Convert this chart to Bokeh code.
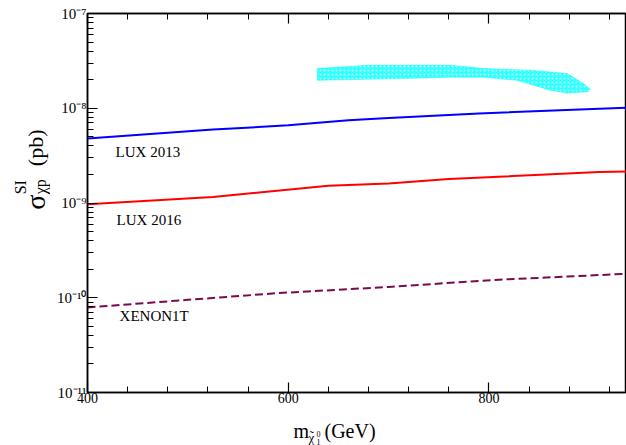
import math
from bokeh.plotting import figure
from bokeh.layouts import row, column
from bokeh.models import FixedTicker, CustomJSTickFormatter, LinearAxis, ColumnDataSource, Range1d
from bokeh.embed import file_html
from bokeh.resources import INLINE
from bokeh.core.properties import value

# ---------------- data ----------------
x_ticks = [400, 600, 800]
x_minor = [440, 480, 520, 560, 640, 680, 720, 760, 840, 880, 920]
y_ticks = [1e-11, 1e-10, 1e-9, 1e-8, 1e-7]
y_tick_labels = ["10⁻¹¹", "10⁻¹⁰", "10⁻⁹", "10⁻⁸", "10⁻⁷"]

lux2013_m = [400, 525, 600, 660, 700, 790, 910, 937]
lux2013_sigma = [4.8e-9, 5.95e-9, 6.6e-9, 7.45e-9, 7.9e-9, 8.8e-9, 9.9e-9, 1.01e-8]

lux2016_m = [400, 525, 640, 700, 760, 910, 937]
lux2016_sigma = [0.97e-9, 1.16e-9, 1.52e-9, 1.61e-9, 1.79e-9, 2.12e-9, 2.15e-9]

xenon1t_m = [400, 500, 590, 700, 780, 810, 937]
xenon1t_sigma = [7.9e-11, 9.5e-11, 1.12e-10, 1.3e-10, 1.48e-10, 1.55e-10, 1.79e-10]

band_m = [629, 679, 712, 762, 795, 844, 878, 894, 901, 898, 878, 861, 828, 795, 762, 712, 629]
band_sigma = [2.62e-8, 2.84e-8, 2.84e-8, 2.84e-8, 2.62e-8, 2.51e-8, 2.32e-8, 1.82e-8, 1.58e-8,
              1.49e-8, 1.45e-8, 1.55e-8, 1.97e-8, 2.13e-8, 2.13e-8, 2.06e-8, 1.97e-8]

curve_names = ["LUX 2013", "LUX 2016", "XENON1T"]
name_m = [428, 429, 432]
name_sigma = [3.44e-9, 6.62e-10, 6.47e-11]

x_start, x_end = 400, 937
y_start, y_end = 1e-11, 1e-7

FONT = "Liberation Serif"

# ---------------- main plot ----------------
p = figure(width=576, height=417, x_range=(x_start, x_end), y_range=(y_start, y_end),
           y_axis_type="log", output_backend="svg", toolbar_location=None,
           min_border_left=37, min_border_right=0, min_border_top=13, min_border_bottom=25)
p.background_fill_color = "white"
p.border_fill_color = "white"
p.xgrid.visible = False
p.ygrid.visible = False
p.outline_line_color = "black"
p.outline_line_width = 1.5

def style_axis(ax):
    ax.axis_line_color = "black"
    ax.axis_line_width = 1.5
    ax.major_tick_in = 10
    ax.major_tick_out = 0
    ax.minor_tick_in = 6
    ax.minor_tick_out = 0
    ax.major_tick_line_color = "black"
    ax.minor_tick_line_color = "black"
    ax.major_tick_line_width = 1.2
    ax.minor_tick_line_width = 1
    ax.major_label_text_font = FONT
    ax.major_label_text_font_size = "14px"
    ax.major_label_text_color = "black"

p.xaxis.ticker = FixedTicker(ticks=x_ticks, minor_ticks=x_minor)
y_minor = [k * t for t in y_ticks[:-1] for k in range(2, 10)]
p.yaxis.ticker = FixedTicker(ticks=y_ticks, minor_ticks=y_minor)
style_axis(p.xaxis[0])
style_axis(p.yaxis[0])
p.xaxis.major_label_standoff = 0
p.yaxis.major_label_standoff = 1
p.yaxis.major_label_text_font_size = "15px"
p.yaxis.formatter = CustomJSTickFormatter(
    args=dict(tvals=y_ticks, tlabels=y_tick_labels),
    code="""
    let best = 0, bd = Infinity;
    for (let i = 0; i < tvals.length; i++) {
        const d = Math.abs(Math.log10(tvals[i]) - Math.log10(tick));
        if (d < bd) { bd = d; best = i; }
    }
    return tlabels[best];
    """)

top = LinearAxis(ticker=FixedTicker(ticks=x_ticks, minor_ticks=x_minor),
                 formatter=CustomJSTickFormatter(code="return '';"))
style_axis(top)
top.major_label_standoff = 0
p.add_layout(top, "above")

p.patch(band_m, band_sigma, fill_color="#00ffff", fill_alpha=0.8, line_color="#00ffff",
        line_alpha=0.5, line_width=1, hatch_pattern="dot", hatch_color="white",
        hatch_scale=4, hatch_weight=1.2, hatch_alpha=0.7)

p.line(lux2013_m, lux2013_sigma, line_color="#0000ff", line_width=2)
p.line(lux2016_m, lux2016_sigma, line_color="#ff0000", line_width=2)
p.line(xenon1t_m, xenon1t_sigma, line_color="#7a0a4e", line_width=2, line_dash="8 4")

src = ColumnDataSource(dict(m=name_m, s=name_sigma, t=curve_names))
p.text(x="m", y="s", text="t", source=src, text_font=value(FONT), text_font_size="15px",
       text_color="black", text_align="left", text_baseline="middle")

# ---------------- y-axis title panel (pixel coordinates) ----------------
left = figure(width=50, height=417, x_range=Range1d(0, 50), y_range=Range1d(417, 0),
              output_backend="svg", toolbar_location=None, x_axis_location=None,
              y_axis_location=None, min_border=0)
left.outline_line_color = None
left.xgrid.visible = False
left.ygrid.visible = False
ang = math.pi / 2
def ytitle(txt, x, y, size):
    left.text(x=[x], y=[y], text=[txt], angle=ang, text_font=value(FONT), text_font_size=size,
              text_color="black", text_align="left", text_baseline="alphabetic")
ytitle("σ", 35, 216, "28px")
ytitle("SI", 20, 199, "16px")
ytitle("χp", 40, 199, "16px")
ytitle("(pb)", 35, 168, "22px")

# ---------------- x-axis title panel (pixel coordinates) ----------------
bottom = figure(width=626, height=28, x_range=Range1d(0, 626), y_range=Range1d(445, 417),
                output_backend="svg", toolbar_location=None, x_axis_location=None,
                y_axis_location=None, min_border=0)
bottom.outline_line_color = None
bottom.xgrid.visible = False
bottom.ygrid.visible = False
def xtitle(txt, x, y, size):
    bottom.text(x=[x], y=[y], text=[txt], text_font=value(FONT), text_font_size=size,
                text_color="black", text_align="left", text_baseline="alphabetic")
xtitle("m", 293, 430, "20px")
xtitle("χ", 308, 437, "13px")
xtitle("˜", 309, 435, "13px")
xtitle("0", 316, 433, "8px")
xtitle("1", 316, 441, "8px")
xtitle("(GeV)", 324, 430, "20px")

layout = column(row(left, p, spacing=0), bottom, spacing=0)
open("out.html", "w").write(file_html(layout, INLINE))
